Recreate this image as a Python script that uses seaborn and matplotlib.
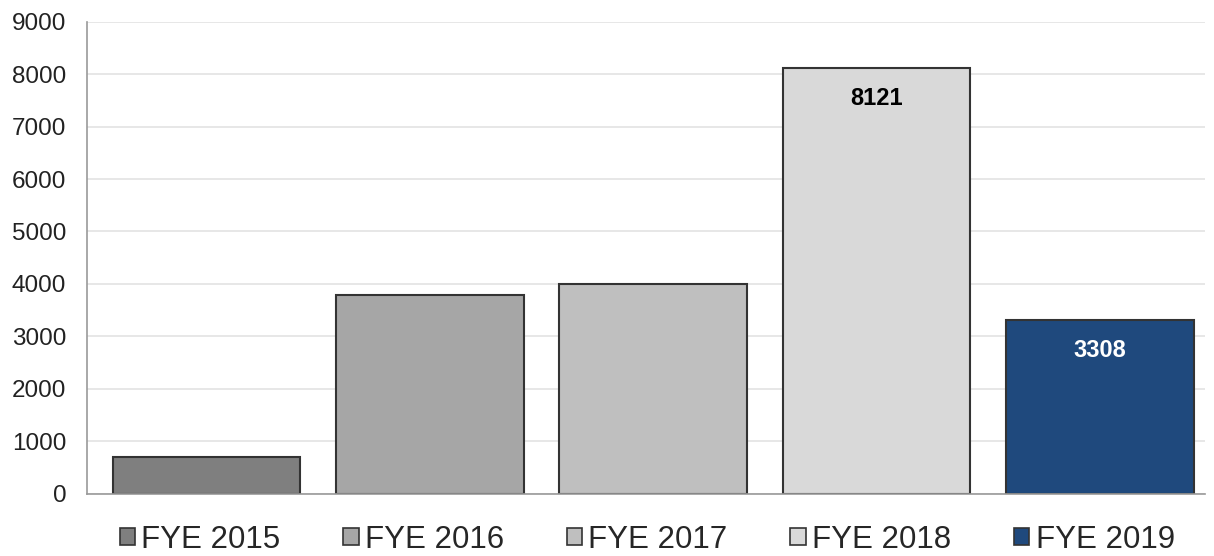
import pandas as pd
import seaborn as sns
from matplotlib import pyplot as plt

# values
years = ['FYE 2015', 'FYE 2016', 'FYE 2017', 'FYE 2018', 'FYE 2019']
counts = [705, 3790, 4000, 8121, 3308]
bar_colors = ['#7f7f7f', '#a6a6a6', '#bfbfbf', '#d9d9d9', '#1f497d']
shown_labels = {3: ('8121', 'black'), 4: ('3308', 'white')}

df = pd.DataFrame({'year': years, 'count': counts})

sns.set_style('white')
plt.rcParams['font.family'] = ['Liberation Sans', 'DejaVu Sans']

fig, ax = plt.subplots(figsize=(12.14, 5.56), dpi=100)
fig.subplots_adjust(left=0.0717, right=0.9926, top=0.961, bottom=0.112)

sns.barplot(data=df, x='year', y='count', hue='year', palette=bar_colors, saturation=1,
            width=0.84, edgecolor='#333333', linewidth=1.5, legend=True, ax=ax)

# data labels inside the top of two bars
for i, (txt, col) in shown_labels.items():
    ax.annotate(txt, (i, counts[i]), xytext=(0, -22), textcoords='offset points',
                ha='center', va='center', fontsize=17, fontweight='bold', color=col)

ax.set_ylim(0, 9000)
ax.set_xlim(-0.535, 4.47)
ax.set_yticks(range(0, 9001, 1000))
ax.yaxis.grid(True, color='#e3e3e3', linewidth=1.2)
ax.set_axisbelow(True)
ax.set_xticks([])
ax.set_xlabel('')
ax.set_ylabel('')
ax.tick_params(axis='y', labelsize=17.5, colors='#222222', length=0, pad=15)
for s in ['top', 'right']:
    ax.spines[s].set_visible(False)
for s in ['left', 'bottom']:
    ax.spines[s].set_color('#999999')
    ax.spines[s].set_linewidth(1.2)

sns.move_legend(ax, 'center', bbox_to_anchor=(0.501, -0.097), ncol=5, frameon=False,
                title=None, fontsize=22.5, handlelength=0.5, handleheight=0.5,
                handletextpad=0.2, columnspacing=2.0)
for h in ax.get_legend().legend_handles:
    h.set_edgecolor('#333333')
    h.set_linewidth(1.2)

fig.savefig('out.png', dpi=100)
